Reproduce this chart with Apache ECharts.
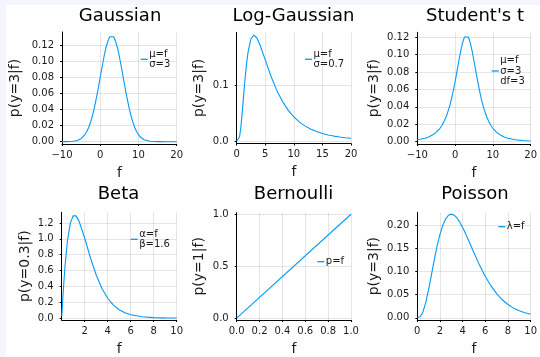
<!DOCTYPE html>
<html><head><meta charset="utf-8">
<script src="https://cdn.jsdelivr.net/npm/echarts@6/dist/echarts.min.js"></script>
<style>
html,body{margin:0;padding:0;background:#f3f6fc;width:540px;height:357px;overflow:hidden;}
#bg{position:absolute;left:6px;top:5px;width:534px;height:352px;background:#fff;}
#chart{position:absolute;left:0;top:0;width:540px;height:357px;}
</style></head><body><div id="bg"></div><div id="chart"></div>
<script>
// ---------- data ----------
const titles = ["Gaussian", "Log-Gaussian", "Student's t", "Beta", "Bernoulli", "Poisson"];
const yNames = ["p(y=3|f)", "p(y=3|f)", "p(y=3|f)", "p(y=0.3|f)", "p(y=1|f)", "p(y=3|f)"];
const xNames = ["f", "f", "f", "f", "f", "f"];
const seriesNames = ["μ=f\nσ=3", "μ=f\nσ=0.7", "μ=f\nσ=3\ndf=3", "α=f\nβ=1.6", "p=f", "λ=f"];

const gaussF = [-10,-9,-8,-7,-6,-5.5,-5,-4.5,-4,-3.5,-3,-2.5,-2,-1.5,-1,-0.5,0,0.5,1,1.5,2,2.5,3,3.5,4,4.5,5,5.5,6,6.5,7,7.5,8,8.5,9,9.5,10,10.5,11,11.5,12,13,14,15,16,17,18,19,20];
const gaussP = [0.00001,0.00004,0.00016,0.00051,0.00148,0.0024,0.0038,0.0058,0.0087,0.0127,0.0180,0.0248,0.0332,0.0432,0.0547,0.0673,0.0807,0.0940,0.1065,0.1174,0.1258,0.1312,0.1330,0.1312,0.1258,0.1174,0.1065,0.0940,0.0807,0.0673,0.0547,0.0432,0.0332,0.0248,0.0180,0.0127,0.0087,0.0058,0.0038,0.0024,0.00148,0.00051,0.00016,0.00004,0.00001,0,0,0,0];

const logF = [0,0.25,0.5,0.75,1,1.25,1.5,1.75,2,2.5,3,3.5,4,5,6,7,8,9,10,11,12,13,14,15,16,17,18,19,20];
const logP = [0,0.00035,0.00718,0.02673,0.05543,0.08689,0.11636,0.14123,0.16062,0.18363,0.18997,0.18542,0.17458,0.14558,0.11636,0.09132,0.07118,0.05543,0.04327,0.03393,0.02673,0.02118,0.01687,0.01351,0.01088,0.00882,0.00718,0.00588,0.00483];

const studF = [-10,-9,-8,-7,-6,-5,-4,-3.5,-3,-2.5,-2,-1.5,-1,-0.5,0,0.5,1,1.5,2,2.5,3,3.5,4,4.5,5,5.5,6,6.5,7,7.5,8,8.5,9,9.5,10,11,12,13,14,15,16,17,18,19,20];
const studP = [0.00233,0.00305,0.00408,0.00554,0.00766,0.01079,0.01546,0.01862,0.02250,0.02725,0.03303,0.04001,0.04831,0.05798,0.06892,0.08083,0.09294,0.10440,0.11393,0.12028,0.12252,0.12028,0.11393,0.10440,0.09294,0.08083,0.06892,0.05798,0.04831,0.04001,0.03303,0.02725,0.02250,0.01862,0.01546,0.01079,0.00766,0.00554,0.00408,0.00305,0.00233,0.00180,0.00141,0.00112,0.00089];

const betaF = [0.01,0.05,0.1,0.2,0.3,0.5,0.75,1,1.25,1.5,2,2.5,3,3.5,4,4.5,5,5.5,6,7,8,9,10];
const betaP = [0.0268,0.1311,0.2550,0.4803,0.6747,0.9739,1.1985,1.2917,1.2905,1.2271,1.0075,0.7608,0.5441,0.3743,0.2503,0.1636,0.1051,0.0665,0.0416,0.0158,0.0058,0.0021,0.0007];

const bernF = [0, 1];
const bernP = [0, 1];

const poisF = [0,0.25,0.5,0.75,1,1.25,1.5,1.75,2,2.25,2.5,2.75,3,3.25,3.5,3.75,4,4.25,4.5,4.75,5,5.5,6,6.5,7,7.5,8,8.5,9,9.5,10];
const poisP = [0,0.00203,0.01264,0.03321,0.06131,0.09326,0.12551,0.15522,0.18045,0.20009,0.21376,0.22158,0.22404,0.22184,0.21579,0.20670,0.19537,0.18250,0.16872,0.15454,0.14037,0.11332,0.08924,0.06881,0.05213,0.03889,0.02863,0.02083,0.01499,0.01070,0.00757];

const gaussXTicks = [-10, 0, 10, 20];
const gaussYTicks = [0, 0.02, 0.04, 0.06, 0.08, 0.10, 0.12];
const logXTicks = [0, 5, 10, 15, 20];
const logYTicks = [0, 0.1];
const studXTicks = [-10, 0, 10, 20];
const studYTicks = [0, 0.02, 0.04, 0.06, 0.08, 0.10, 0.12];
const betaXTicks = [2, 4, 6, 8, 10];
const betaYTicks = [0, 0.2, 0.4, 0.6, 0.8, 1.0, 1.2];
const bernXTicks = [0, 0.2, 0.4, 0.6, 0.8, 1.0];
const bernYTicks = [0, 0.5, 1.0];
const poisXTicks = [0, 2, 4, 6, 8, 10];
const poisYTicks = [0, 0.05, 0.10, 0.15, 0.20];

const xsAll = [gaussF, logF, studF, betaF, bernF, poisF];
const ysAll = [gaussP, logP, studP, betaP, bernP, poisP];
const xTicksAll = [gaussXTicks, logXTicks, studXTicks, betaXTicks, bernXTicks, poisXTicks];
const yTicksAll = [gaussYTicks, logYTicks, studYTicks, betaYTicks, bernYTicks, poisYTicks];

// ---------- layout ----------
const layout = [
  {l:62,    t:32,    w:114.7, h:112,   xmin:-10, xmax:20, ymin:-0.0029, ymax:0.1371, xd:0, yd:2, tx:120,   ty:7,     lgL:140.7, lgY:59.3, yGap:40},
  {l:236.7, t:32.3,  w:114.3, h:111.2, xmin:0,   xmax:20, ymin:-0.0045, ymax:0.1952, xd:0, yd:1, tx:293.5, ty:7,     lgL:305,   lgY:59.3, yGap:30.7},
  {l:417.3, t:32.3,  w:115,   h:111.7, xmin:-10, xmax:20, ymin:-0.0026, ymax:0.1256, xd:0, yd:2, tx:475,   ty:7,     lgL:491.7, lgY:71,   yGap:36},
  {l:61.7,  t:212.3, w:115,   h:110.4, xmin:0,   xmax:10, ymin:-0.0246, ymax:1.3356, xd:0, yd:1, tx:118.5, ty:185.5, lgL:130.7, lgY:239.3, yGap:29.7},
  {l:236.7, t:212.7, w:114.3, h:110,   xmin:0,   xmax:1,  ymin:-0.0188, ymax:1.0150, xd:1, yd:1, tx:293.5, ty:185.5, lgL:317.3, lgY:261.7, yGap:30.5},
  {l:417.3, t:212.3, w:115,   h:110.7, xmin:0,   xmax:10, ymin:-0.0048, ymax:0.2280, xd:0, yd:2, tx:475,   ty:185.5, lgL:498.3, lgY:226.7, yGap:36}
];

const FONT = 'DejaVu Sans';
const LINE = '#009AFA';
const TXT = '#1a1a1a';
const fmt = (d) => (v) => { const s = Number(v).toFixed(d); return s.replace('-', '\u2212'); };

const option = {
  animation: false,
  backgroundColor: 'transparent',
  textStyle: {fontFamily: FONT},
  title: layout.map((L, i) => ({
    text: titles[i], left: L.tx, top: L.ty, textAlign: 'center', padding: 0,
    textStyle: {fontFamily: FONT, fontSize: 18, fontWeight: 'normal', color: '#000'}
  })),
  grid: layout.map(L => ({left: L.l, top: L.t, width: L.w, height: L.h, containLabel: false})),
  xAxis: layout.map((L, i) => ({
    type: 'value', gridIndex: i, min: L.xmin, max: L.xmax,
    name: xNames[i], nameLocation: 'middle', nameGap: 22,
    nameTextStyle: {fontFamily: FONT, fontSize: 14, color: TXT},
    axisLine: {show: true, onZero: false, lineStyle: {color: '#000', width: 1}},
    axisTick: {show: true, inside: false, length: 2, customValues: xTicksAll[i], lineStyle: {color: '#000', width: 1}},
    axisLabel: {customValues: xTicksAll[i], margin: 6, fontSize: 10, color: TXT, fontFamily: FONT, formatter: fmt(L.xd)},
    splitLine: {show: true, lineStyle: {color: 'rgba(0,0,0,0.1)', width: 1}}
  })),
  yAxis: layout.map((L, i) => ({
    type: 'value', gridIndex: i, min: L.ymin, max: L.ymax,
    name: yNames[i], nameLocation: 'middle', nameGap: L.yGap,
    nameTextStyle: {fontFamily: FONT, fontSize: 14, color: TXT},
    axisLine: {show: true, onZero: false, lineStyle: {color: '#000', width: 1}},
    axisTick: {show: true, inside: false, length: 2, customValues: yTicksAll[i], lineStyle: {color: '#000', width: 1}},
    axisLabel: {customValues: yTicksAll[i], margin: 8, fontSize: 10, color: TXT, fontFamily: FONT, formatter: fmt(L.yd)},
    splitLine: {show: true, lineStyle: {color: 'rgba(0,0,0,0.1)', width: 1}}
  })),
  legend: layout.map((L, i) => {
    const nLines = seriesNames[i].split('\n').length;
    return {
      data: [seriesNames[i]], orient: 'vertical', left: L.lgL, top: L.lgY - nLines * 10.5 / 2,
      padding: 0, icon: 'rect', itemWidth: 7, itemHeight: 1.3, selectedMode: false,
      textStyle: {fontFamily: FONT, fontSize: 10, lineHeight: 10.5, color: TXT, padding: [0, 0, 0, -3.5]}
    };
  }),
  series: layout.map((L, i) => ({
    type: 'line', name: seriesNames[i], xAxisIndex: i, yAxisIndex: i,
    data: xsAll[i].map((x, k) => [x, ysAll[i][k]]),
    showSymbol: false, smooth: false,
    color: LINE, lineStyle: {color: LINE, width: 1.1}, itemStyle: {color: LINE}
  }))
};

const chart = echarts.init(document.getElementById('chart'), null, {renderer: 'canvas'});
chart.setOption(option);
</script>
</body></html>
